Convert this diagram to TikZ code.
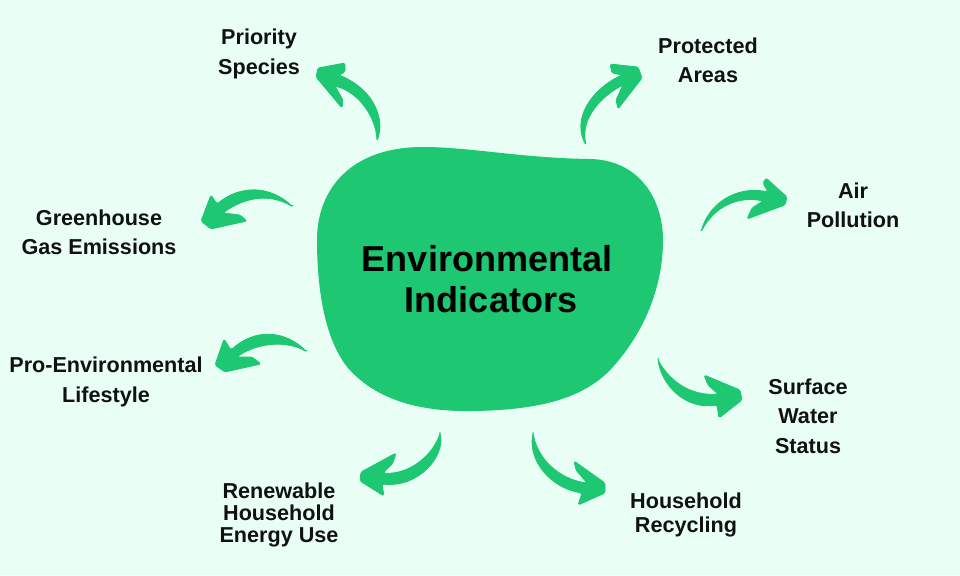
\documentclass[tikz,border=0pt]{standalone}
\usepackage{fontspec}
\setmainfont{Liberation Sans}
\definecolor{bgmint}{HTML}{E9FFF6}
\definecolor{leaf}{HTML}{1EC772}
\definecolor{ink}{HTML}{111111}
\tikzset{
  swoosh/.style={fill=leaf,draw=leaf,line width=0.6pt,line join=round,rounded corners=1.2pt},
  lab/.style={align=center,text=ink,inner sep=0pt,font=\bfseries\fontsize{16.2}{#1}\selectfont},
  lab/.default={21},
  bigtitle/.style={align=center,text=black,inner sep=0pt,font=\bfseries\fontsize{27}{30.5}\selectfont}
}
\begin{document}
\begin{tikzpicture}[x=0.75pt,y=-0.75pt]
\useasboundingbox (0,0) rectangle (960,575);
\fill[bgmint] (0,0) rectangle (960,575);
% central blob
\fill[leaf] (317,240) .. controls (317,190) and (350,147) .. (423,147)
  .. controls (470,147) and (520,158) .. (590,159)
  .. controls (640,160) and (663,200) .. (663,240)
  .. controls (663,290) and (642,335) .. (612,368)
  .. controls (587,395) and (548,410) .. (473,411)
  .. controls (420,412) and (376,400) .. (348,368)
  .. controls (325,340) and (317,290) .. (317,240) -- cycle;
% Priority Species arrow
\path[swoosh] (377,141) .. controls (385,120) and (375,90) .. (339,75) -- (345,72) -- (345,63) -- (318,68) -- (316,77) -- (342,108) -- (343,100) -- (335,86) .. controls (360,93) and (376,118) .. (377,141) -- cycle;
% Protected Areas arrow
\path[swoosh] (586,145) .. controls (572,120) and (590,90) .. (622,75) -- (612,73) -- (610,64) -- (638,67) -- (642,78) -- (618,109) -- (616,100) -- (623,85) .. controls (602,96) and (580,118) .. (586,145) -- cycle;
% Air Pollution arrow
\path[swoosh] (701,232) .. controls (708,205) and (735,185) .. (768,192) -- (763,183) -- (766,178) -- (787,197) -- (785,205) -- (747,219) -- (752,208) -- (763,201) .. controls (740,196) and (715,205) .. (701,232) -- cycle;
% Surface Water Status arrow
\path[swoosh] (658,360) .. controls (662,385) and (685,410) .. (717,405) -- (719,418) -- (742,400) -- (740,390) -- (704,375) -- (708,385) -- (718,394) .. controls (695,396) and (672,385) .. (658,360) -- cycle;
% Household Recycling arrow
\path[swoosh] (533,434) .. controls (528,460) and (550,488) .. (582,493) -- (578,505) -- (605,493) -- (605,483) -- (574,461) -- (576,470) -- (587,483) .. controls (565,480) and (540,465) .. (533,434) -- cycle;
% Renewable arrow
\path[swoosh] (440,434) .. controls (445,455) and (420,488) .. (382,484) -- (384,496) -- (360,481) -- (361,472) -- (396,453) -- (393,463) -- (383,473) .. controls (405,475) and (430,460) .. (440,434) -- cycle;
% Greenhouse arrow
\path[swoosh] (293,207) .. controls (270,185) and (240,185) .. (217,204) -- (211,195) -- (201,221) -- (211,229) -- (247,221) -- (240,215) -- (223,213) .. controls (245,197) and (270,193) .. (293,207) -- cycle;
% Pro-Environmental arrow
\path[swoosh] (307,352) .. controls (285,330) and (255,328) .. (231,350) -- (224,339) -- (215,365) -- (225,372) -- (261,364) -- (252,357) -- (237,357) .. controls (255,344) and (285,339) .. (307,352) -- cycle;
% labels
\node[bigtitle] (title) at (487,279) {Environmental\\\hspace*{6pt}Indicators};
\node[lab=22] (priority) at (259,54) {Priority\\Species};
\node[lab=22] (protected) at (708,60) {Protected\\Areas};
\node[lab=22] (air) at (853,205) {Air\\Pollution};
\node[lab=22] (surface) at (808,416) {Surface\\Water\\Status};
\node[lab=18] (recycling) at (686,515) {Household\\Recycling};
\node[lab=16.5] (renewable) at (279,515) {Renewable\\Household\\Energy Use};
\node[lab=22] (lifestyle) at (106,382) {Pro-Environmental\\Lifestyle};
\node[lab=22] (greenhouse) at (99,232) {Greenhouse\\Gas Emissions};
\end{tikzpicture}
\end{document}
